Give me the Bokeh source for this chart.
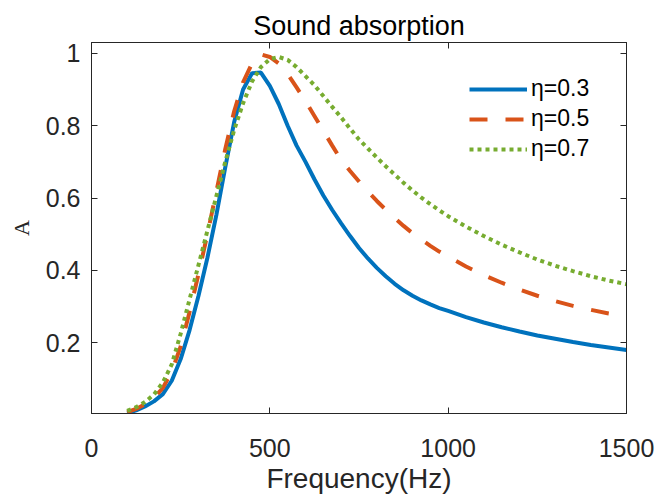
from bokeh.plotting import figure
from bokeh.models import Range1d, LinearAxis, FixedTicker, Legend, LegendItem, ColumnDataSource
from bokeh.embed import file_html
from bokeh.resources import INLINE

# ---- data ----
freq = [100, 125, 150, 175, 200, 225, 250, 275, 300, 325, 350, 375, 400, 425, 450,
        475, 500, 525, 550, 575, 600, 625, 650, 675, 700, 725, 750, 775, 800, 825,
        850, 875, 900, 925, 950, 975, 1000, 1050, 1100, 1150, 1200, 1250, 1300, 1350,
        1400, 1450, 1500]
a_eta03 = [0.005, 0.013, 0.024, 0.038, 0.058, 0.095, 0.155, 0.235, 0.330, 0.435, 0.553,
           0.685, 0.810, 0.900, 0.945, 0.947, 0.910, 0.860, 0.800, 0.745, 0.700, 0.652,
           0.607, 0.567, 0.530, 0.495, 0.462, 0.433, 0.407, 0.384, 0.363, 0.345, 0.330,
           0.317, 0.306, 0.296, 0.288, 0.271, 0.256, 0.243, 0.231, 0.220, 0.211, 0.202,
           0.194, 0.187, 0.180]
a_eta05 = [0.008, 0.017, 0.030, 0.048, 0.075, 0.120, 0.190, 0.285, 0.390, 0.500, 0.618,
           0.735, 0.840, 0.920, 0.972, 0.997, 0.990, 0.972, 0.943, 0.906, 0.868, 0.827,
           0.786, 0.745, 0.705, 0.675, 0.646, 0.618, 0.592, 0.568, 0.545, 0.523, 0.503,
           0.485, 0.468, 0.452, 0.438, 0.411, 0.387, 0.366, 0.347, 0.330, 0.315, 0.302,
           0.291, 0.281, 0.273]
a_eta07 = [0.012, 0.022, 0.036, 0.057, 0.090, 0.140, 0.225, 0.320, 0.415, 0.510, 0.605,
           0.700, 0.788, 0.862, 0.922, 0.962, 0.984, 0.990, 0.982, 0.962, 0.937, 0.912,
           0.882, 0.852, 0.823, 0.792, 0.762, 0.737, 0.712, 0.688, 0.665, 0.642, 0.621,
           0.601, 0.583, 0.566, 0.550, 0.521, 0.495, 0.471, 0.450, 0.430, 0.413, 0.398,
           0.384, 0.372, 0.362]
labels = ["η=0.3", "η=0.5", "η=0.7"]
x_ticks = [0, 500, 1000, 1500]
y_ticks = [0.2, 0.4, 0.6, 0.8, 1.0]

AX = "#262626"
FONT = "Liberation Sans"

p = figure(width=655, height=496, output_backend="svg", toolbar_location=None,
           x_range=Range1d(0, 1500), y_range=Range1d(0.0045, 1.03),
           min_border_left=91, min_border_right=29, min_border_top=42, min_border_bottom=83)
p.background_fill_color = "white"
p.border_fill_color = "white"
p.outline_line_color = AX
p.outline_line_width = 1
p.xgrid.visible = False
p.ygrid.visible = False

p.title.text = "Sound absorption"
p.title.align = "center"
p.title.text_font = FONT
p.title.text_font_size = "27px"
p.title.text_font_style = "normal"
p.title.text_color = "black"
p.title.standoff = 3

src = ColumnDataSource(dict(f=freq, a1=a_eta03, a2=a_eta05, a3=a_eta07))
r1 = p.line("f", "a1", source=src, line_color="#0072BD", line_width=4)
r2 = p.line("f", "a2", source=src, line_color="#D95319", line_width=4, line_dash="18 18")
r3 = p.line("f", "a3", source=src, line_color="#77AC30", line_width=4, line_dash="4 4")


def style(ax, ticks, show_labels):
    ax.ticker = FixedTicker(ticks=ticks)
    ax.axis_line_color = AX
    ax.major_tick_line_color = AX
    ax.major_tick_in = 6
    ax.major_tick_out = 0
    ax.minor_tick_line_color = None
    ax.major_label_text_font = FONT
    if show_labels:
        ax.major_label_text_color = AX
        ax.major_label_text_font_size = "25px"
    else:
        # box ticks only (MATLAB "box on"): no labels drawn on these sides
        ax.major_label_text_color = None
        ax.major_label_text_font_size = "1px"
        ax.major_label_standoff = 0


xa = p.xaxis[0]
style(xa, x_ticks, True)
xa.major_label_standoff = 25
xa.axis_label = "Frequency(Hz)"
xa.axis_label_text_font = FONT
xa.axis_label_text_font_size = "28px"
xa.axis_label_text_font_style = "normal"
xa.axis_label_text_color = AX
xa.axis_label_standoff = 3

ya = p.yaxis[0]
style(ya, y_ticks, True)
ya.major_label_overrides = {1.0: "1"}
ya.major_label_standoff = 11
ya.axis_label = "A"
ya.axis_label_text_font = "Liberation Serif"
ya.axis_label_text_font_size = "22px"
ya.axis_label_text_font_style = "normal"
ya.axis_label_text_color = AX
ya.axis_label_standoff = 9

top = LinearAxis()
style(top, x_ticks, False)
p.add_layout(top, "above")
right = LinearAxis()
style(right, y_ticks, False)
p.add_layout(right, "right")

legend = Legend(items=[LegendItem(label=labels[0], renderers=[r1]),
                       LegendItem(label=labels[1], renderers=[r2]),
                       LegendItem(label=labels[2], renderers=[r3])],
                location=(378, 251), padding=0, spacing=3,
                glyph_width=58, glyph_height=20, label_standoff=4,
                label_text_font=FONT, label_text_font_size="23px", label_text_color="black",
                border_line_color=None, background_fill_alpha=0)
p.add_layout(legend)

open("out.html", "w").write(file_html(p, INLINE))
